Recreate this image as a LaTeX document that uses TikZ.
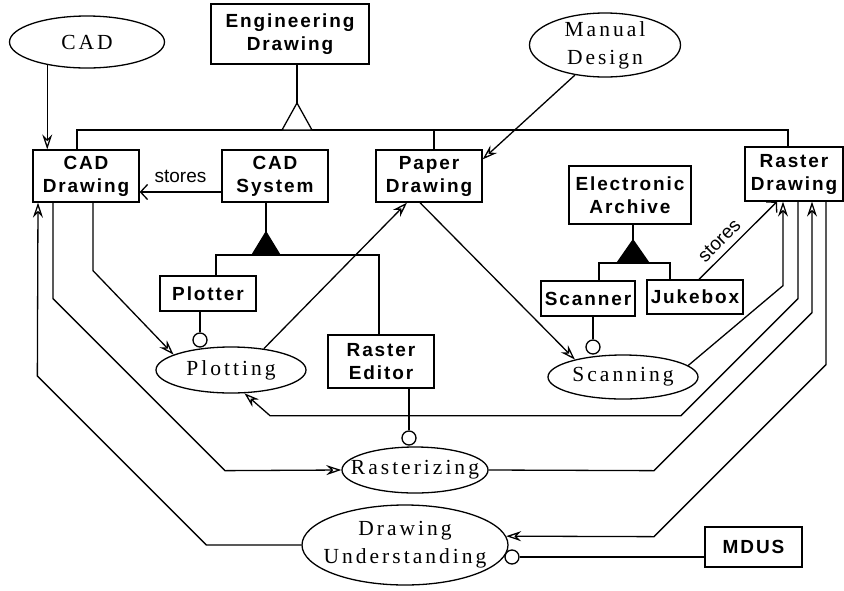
\documentclass[tikz,border=0pt]{standalone}
\usepackage{fontspec}
\usetikzlibrary{arrows.meta,shapes.geometric}
\newfontfamily\boxfont[LetterSpace=10]{Liberation Sans}
\newfontfamily\ellfont[LetterSpace=14]{Liberation Serif}
\newfontfamily\lblfont{Liberation Sans}
\begin{document}
\begin{tikzpicture}[x=1pt,y=-1pt,line width=1.3pt,
  box/.style={draw,rectangle,inner sep=0pt,align=center,
    font=\boxfont\bfseries\fontsize{19}{23}\selectfont},
  proc/.style={draw,ellipse,inner sep=-20pt,align=center,
    font=\ellfont\fontsize{21.5}{28}\selectfont},
  lolly/.style={draw,circle,minimum size=14pt,inner sep=0pt,fill=white},
  flow/.style={-{Stealth[open,length=15pt,width=10pt,inset=5pt]}},
  backflow/.style={{Stealth[open,length=15pt,width=10pt,inset=5pt]}-},
  storearr/.style={-{Straight Barb[length=7pt,width=15pt]}},
  lbl/.style={font=\lblfont\fontsize{19}{22}\selectfont}
]
\useasboundingbox (0,0) rectangle (844,590);

% ---------- classes (boxes) ----------
\node[box,minimum width=158pt,minimum height=60pt] (eng) at (290,34) {Engineering\\Drawing};
\node[box,minimum width=106pt,minimum height=52pt] (cadd) at (86,176) {CAD\\Drawing};
\node[box,minimum width=106pt,minimum height=52pt] (cads) at (275,176) {CAD\\System};
\node[box,minimum width=106pt,minimum height=52pt] (paper) at (429,176) {Paper\\Drawing};
\node[box,minimum width=98pt,minimum height=54pt] (raster) at (794,174) {Raster\\Drawing};
\node[box,minimum width=122pt,minimum height=58pt] (earch) at (630,195) {Electronic\\Archive};
\node[box,minimum width=96pt,minimum height=35pt] (plotter) at (208,293.5) {Plotter};
\node[box,minimum width=106pt,minimum height=53pt] (reditor) at (381,361.5) {Raster\\Editor};
\node[box,minimum width=94pt,minimum height=35pt] (scanner) at (588,298.5) {Scanner};
\node[box,minimum width=96pt,minimum height=34pt] (jukebox) at (695,297) {Jukebox};
\node[box,minimum width=97pt,minimum height=40pt] (mdus) at (753.5,547) {MDUS};

% ---------- processes (ellipses) ----------
\node[proc,minimum width=155pt,minimum height=52pt] (cad) at (87,42) {CAD};
\node[proc,minimum width=151pt,minimum height=64pt] (manual) at (605,45) {Manual\\Design};
\node[proc,minimum width=150pt,minimum height=46pt] (plotting) at (231,370) {Plotting};
\node[proc,minimum width=150pt,minimum height=44pt] (scanning) at (623,377) {Scanning};
\node[proc,minimum width=146pt,minimum height=46pt] (rasterizing) at (415,470) {Rasterizing};
\node[proc,minimum width=206pt,minimum height=80pt] (du) at (405,545) {Drawing\\Understanding};

% ---------- generalization of Engineering Drawing ----------
\coordinate (gapex) at (297,103);
\coordinate (gbase) at (297,130);
\draw (eng.south -| gapex) -- (gapex);
\draw ([xshift=-9pt]cadd.north) |- (gbase) -| ([xshift=-6pt]raster.north);
\draw ([xshift=5pt]paper.north) -- ([xshift=5pt]paper.north |- gbase);
\draw[fill=white] (gapex) -- ++(-15,27) -- ++(30,0) -- cycle;

% ---------- aggregation: CAD System ----------
\coordinate (agA) at (266,232);
\coordinate (agAb) at (266,255);
\draw (cads.south -| agA) -- (agA);
\draw ([xshift=8pt]plotter.north) |- (agAb) -| ([xshift=-2pt]reditor.north);
\draw[fill=black] (agA) -- ++(-14,23) -- ++(28,0) -- cycle;

% ---------- aggregation: Electronic Archive ----------
\coordinate (agB) at (633,240);
\coordinate (agBb) at (633,263);
\draw (earch.south -| agB) -- (agB);
\draw ([xshift=11pt]scanner.north) |- (agBb) -| ([xshift=-25pt]jukebox.north);
\draw[fill=black] (agB) -- ++(-16,23) -- ++(32,0) -- cycle;

% ---------- lollipop interfaces ----------
\node[lolly] (lpPlot) at (200,340) {};
\node[lolly] (lpRed) at (409,438) {};
\node[lolly] (lpScan) at (593,347) {};
\node[lolly] (lpMdus) at (512,557) {};
\draw (plotter.south -| lpPlot) -- (lpPlot.north);
\draw (reditor.south -| lpRed) -- (lpRed.north);
\draw (scanner.south -| lpScan) -- (lpScan.north);
\draw (lpMdus.east) -- (lpMdus -| mdus.west);

% ---------- "stores" associations ----------
\draw[storearr] ([yshift=-16pt]cads.west) -- node[lbl,above=5pt] {stores} ([yshift=-16pt]cadd.east);
\draw[storearr] ([xshift=4pt]jukebox.north) -- node[lbl,sloped,above=3pt,pos=0.38] {stores} ([xshift=-17pt]raster.south);

% ---------- data flows ----------
\draw[flow] (cad.210) -- (cad.210 |- cadd.north);
\draw[flow] (manual.225) -- ([yshift=-10pt]paper.north east);
\draw[flow] ([xshift=-9pt]paper.south) -- (scanning.160);
\draw[flow] (plotting.33) -- ([xshift=-22pt]paper.south);
\draw[flow] ([xshift=7pt]cadd.south) -- ++(0,68) -- (plotting.165);
\draw[flow] ([xshift=-33pt]cadd.south) -- ++(0,96) -- ++(172,172) -- (rasterizing.west);
\draw[flow] (du.west) -- ++(-95,0) -- ++(-169,-169) -- ([xshift=-48pt]cadd.south);
\draw[flow] ([xshift=4pt]raster.south) -- ++(0,97) -- ++(-117,117) -- ++(-411,0) -- (plotting.300);
\draw[backflow] ([xshift=-11pt]raster.south) -- ++(0,84) -- (scanning.10);
\draw[backflow] ([xshift=18pt]raster.south) -- ++(0,111) -- ++(-158,158) -- (rasterizing.east);
\draw[flow] ([xshift=32pt]raster.south) -- ++(0,163) -- ++(-172,172) -- (du.5);

\end{tikzpicture}
\end{document}
